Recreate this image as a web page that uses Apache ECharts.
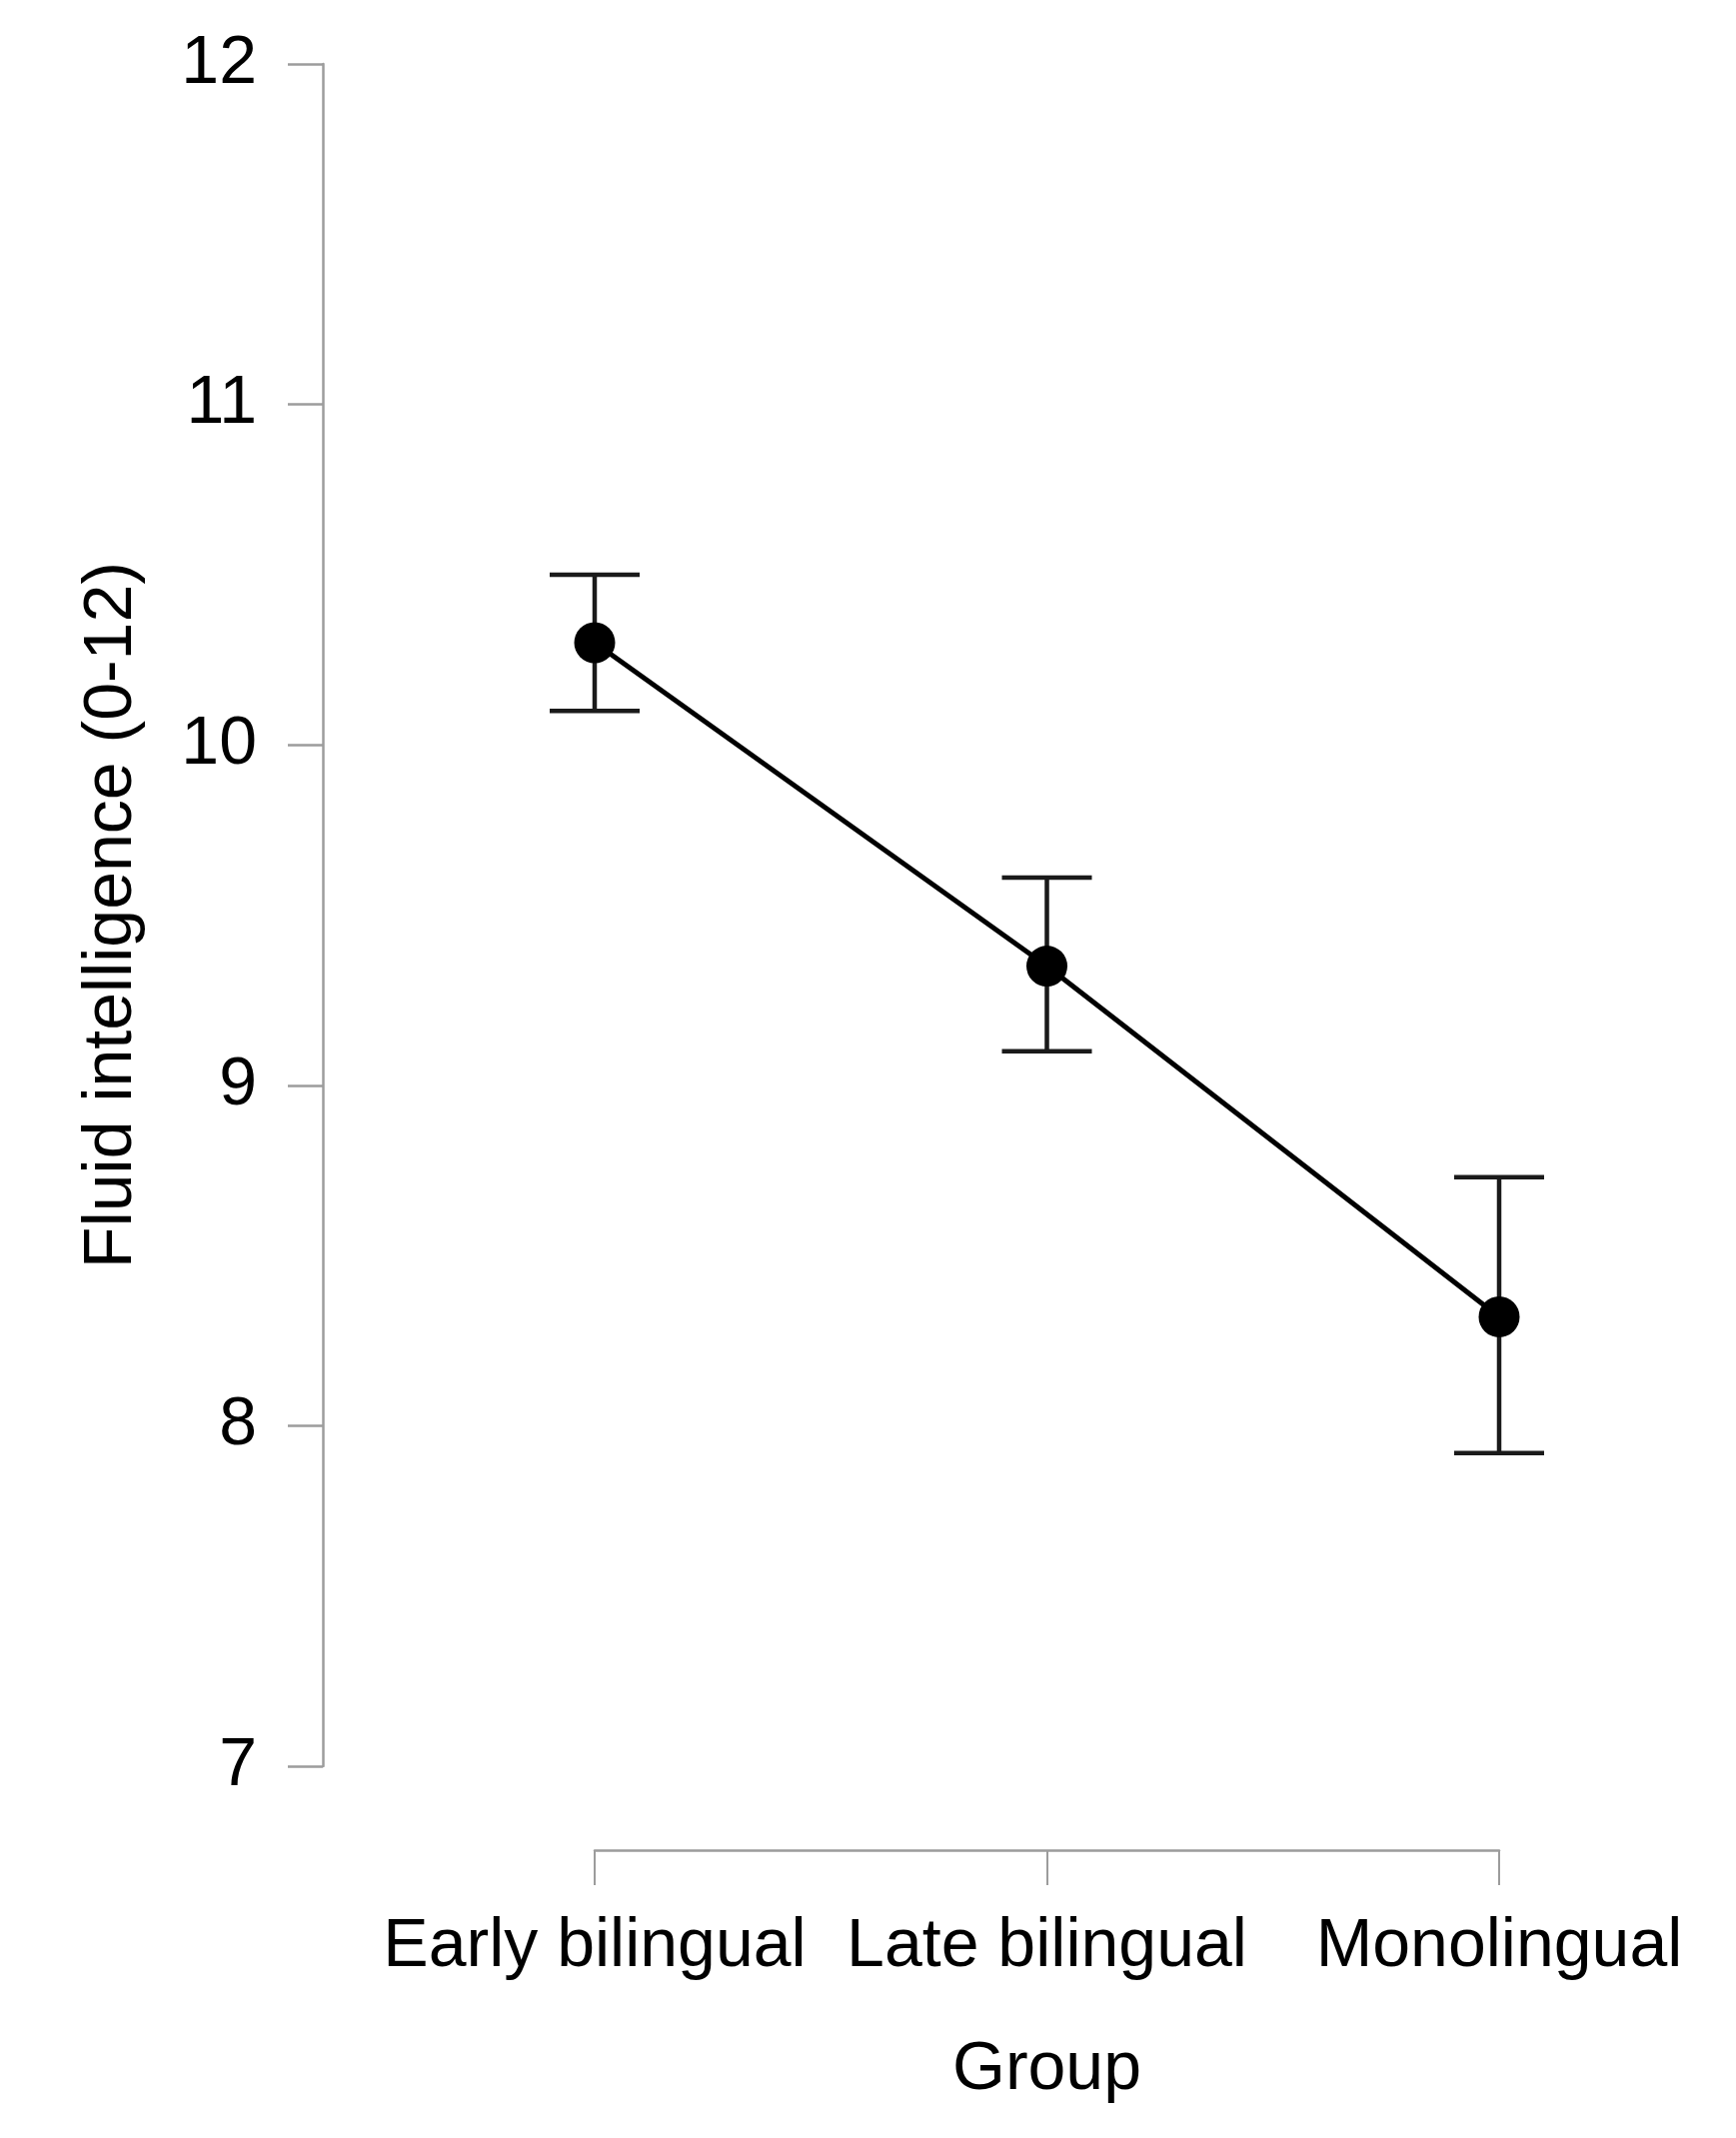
<!DOCTYPE html>
<html lang="en">
<head>
    <meta charset="UTF-8" />
    <title>Fluid intelligence by group</title>
    <script src="https://cdn.jsdelivr.net/npm/echarts@6/dist/echarts.min.js"></script>
    <style type="text/css">
        html, body { margin: 0; padding: 0; background: #fff; }
        #chart { width: 1737px; height: 2139px; }
    </style>
</head>
<body>
    <div id="chart"></div>
    <script type="text/javascript">
        // data
        var groups = ['Early bilingual', 'Late bilingual', 'Monolingual'];
        var means = [10.30, 9.35, 8.32];
        var upper = [10.50, 9.61, 8.73];
        var lower = [10.10, 9.10, 7.92];
        var yMin = 7, yMax = 12, yStep = 1;

        var font = 'Liberation Sans, Arial, Helvetica, sans-serif';
        var axisGray = '#9c9c9c';

        // [index, low, high] for the error bars
        var barData = groups.map(function (g, i) {
            return [i, lower[i], upper[i]];
        });

        function renderErrorBar(params, api) {
            var x = api.value(0);
            var lo = api.coord([x, api.value(1)]);
            var hi = api.coord([x, api.value(2)]);
            var half = 45;
            var style = { stroke: '#1a1a1a', lineWidth: 4.5 };
            return {
                type: 'group',
                children: [
                    { type: 'line', shape: { x1: hi[0], y1: hi[1], x2: lo[0], y2: lo[1] }, style: style },
                    { type: 'line', shape: { x1: hi[0] - half, y1: hi[1], x2: hi[0] + half, y2: hi[1] }, style: style },
                    { type: 'line', shape: { x1: lo[0] - half, y1: lo[1], x2: lo[0] + half, y2: lo[1] }, style: style }
                ]
            };
        }

        var chart = echarts.init(document.getElementById('chart'));
        var option = {
            backgroundColor: '#fff',
            animation: false,
            grid: { left: 595, right: 237, top: 64, bottom: 372 },
            xAxis: {
                type: 'category',
                data: groups,
                boundaryGap: false,
                position: 'bottom',
                offset: 84,
                name: 'Group',
                nameLocation: 'middle',
                nameGap: 186,
                nameTextStyle: { fontFamily: font, fontSize: 68, color: '#000' },
                axisLine: { show: true, lineStyle: { color: axisGray, width: 2.5 } },
                axisTick: { show: true, length: 35, lineStyle: { color: axisGray, width: 2 } },
                axisLabel: { margin: 63, fontFamily: font, fontSize: 68, color: '#000', interval: 0 },
                splitLine: { show: false }
            },
            yAxis: {
                type: 'value',
                min: yMin,
                max: yMax,
                interval: yStep,
                position: 'left',
                offset: 272,
                name: 'Fluid intelligence (0-12)',
                nameLocation: 'middle',
                nameGap: 177,
                nameTextStyle: { fontFamily: font, fontSize: 68, color: '#000' },
                axisLine: { show: true, lineStyle: { color: axisGray, width: 2.5 } },
                axisTick: { show: true, length: 35, lineStyle: { color: axisGray, width: 2.5 } },
                axisLabel: { margin: 66, fontFamily: font, fontSize: 68, color: '#000' },
                splitLine: { show: false }
            },
            series: [
                {
                    type: 'custom',
                    z: 1,
                    renderItem: renderErrorBar,
                    data: barData
                },
                {
                    type: 'line',
                    z: 2,
                    data: means,
                    symbol: 'circle',
                    symbolSize: 41,
                    itemStyle: { color: '#000' },
                    lineStyle: { color: '#000', width: 5 }
                }
            ]
        };
        chart.setOption(option);
    </script>
</body>
</html>
